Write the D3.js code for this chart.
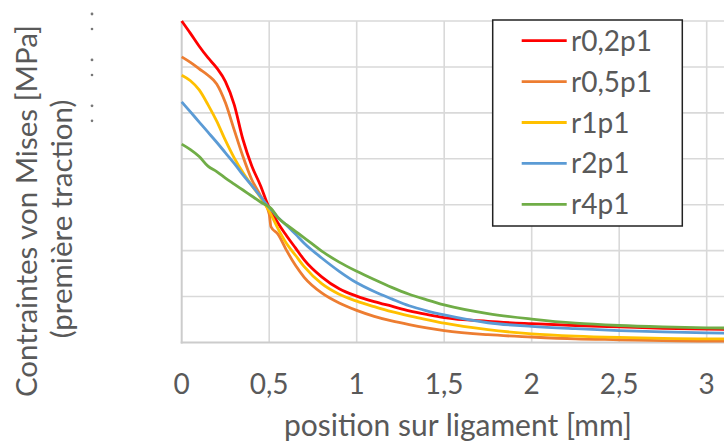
<!DOCTYPE html>
<html>
<head>
<meta charset="utf-8">
<script src="https://cdn.jsdelivr.net/npm/d3@7"></script>
<style>
  body { margin: 0; background: #fff; }
  svg { display: block; }
  text { font-family: Lato, "Open Sans", sans-serif; fill: #595959; }
</style>
</head>
<body>
<script>
"use strict";

// position along the ligament [mm]
var xPos = [0, 0.05, 0.1, 0.15, 0.2, 0.25, 0.3, 0.35, 0.4, 0.45, 0.5, 0.51, 0.55, 0.6, 0.65, 0.7,
            0.8, 0.9, 1, 1.1, 1.2, 1.3, 1.4, 1.5, 1.75, 2, 2.25, 2.5, 2.75, 3, 3.25];

// von Mises stress
var r02 = [700, 673, 645, 620, 598, 568, 518, 442, 385, 342, 294, 288, 260, 232, 206, 180,
           143, 117, 101, 89, 79, 69, 61, 54, 46, 41, 37, 34, 31, 29, 28];
var r05 = [622, 610, 596, 582, 563, 522, 463, 405, 355, 320, 280, 252, 236, 200, 168, 142,
           108, 86, 70, 57, 47, 39, 32, 26, 17, 12, 8, 6, 4, 3, 3];
var r1  = [582, 570, 550, 518, 482, 440, 402, 370, 342, 316, 286, 279, 248, 215, 190, 165,
           128, 105, 90, 78, 67, 58, 50, 42, 28, 19, 14, 11, 9, 8, 8];
var r2  = [524, 502, 480, 458, 436, 413, 390, 365, 342, 318, 294, 290, 272, 255, 236, 216,
           184, 155, 130, 111, 95, 80, 69, 60, 43, 35, 30, 26, 23, 21, 20];
var r4  = [432, 420, 405, 384, 372, 358, 345, 332, 319, 306, 295, 292, 272, 256, 242, 228,
           199, 175, 155, 137, 120, 105, 93, 82, 63, 51, 42, 37, 34, 32, 31];

var seriesNames = ["r0,2p1", "r0,5p1", "r1p1", "r2p1", "r4p1"];
var seriesValues = [r02, r05, r1, r2, r4];
var seriesColors = ["#ff0000", "#ed7d31", "#ffc000", "#5b9bd5", "#70ad47"];

var xTicks = [0, 0.5, 1, 1.5, 2, 2.5, 3, 3.5];
var xTickLabels = ["0", "0,5", "1", "1,5", "2", "2,5", "3", "3,5"];
var yTicks = [0, 100, 200, 300, 400, 500, 600, 700];

var width = 724, height = 441;

var svg = d3.select("body")
  .append("svg")
  .attr("width", width)
  .attr("height", height);

var x = d3.scaleLinear().domain([0, 3.5]).range([181.7, 794.2]);
var y = d3.scaleLinear().domain([0, 700]).range([342.5, 21]);

// grid
svg.append("g").selectAll("line")
  .data(yTicks.slice(1))
  .enter().append("line")
  .attr("x1", x(0)).attr("x2", width)
  .attr("y1", function (d) { return y(d); })
  .attr("y2", function (d) { return y(d); })
  .style("stroke", "#d9d9d9")
  .style("stroke-width", 1.6);

svg.append("g").selectAll("line")
  .data(xTicks.slice(1))
  .enter().append("line")
  .attr("x1", function (d) { return x(d); })
  .attr("x2", function (d) { return x(d); })
  .attr("y1", y(700)).attr("y2", y(0))
  .style("stroke", "#d9d9d9")
  .style("stroke-width", 1.6);

// axis lines
svg.append("line")
  .attr("x1", x(0)).attr("x2", x(0))
  .attr("y1", y(700)).attr("y2", y(0) + 1)
  .style("stroke", "#cccccc").style("stroke-width", 2);
svg.append("line")
  .attr("x1", x(0) - 1).attr("x2", width)
  .attr("y1", y(0)).attr("y2", y(0))
  .style("stroke", "#cccccc").style("stroke-width", 2);

// x tick labels
svg.append("g").selectAll("text")
  .data(xTicks)
  .enter().append("text")
  .attr("x", function (d) { return x(d); })
  .attr("y", 394)
  .attr("text-anchor", "middle")
  .style("font-size", "28px")
  .text(function (d, i) { return xTickLabels[i]; });

// what is left of the y tick labels (top three)
yTicks.slice(5).forEach(function (t) {
  svg.append("circle").attr("cx", 92).attr("cy", y(t) - 7).attr("r", 1.4).style("fill", "#777");
  svg.append("circle").attr("cx", 92).attr("cy", y(t) + 8).attr("r", 1.3).style("fill", "#777");
});

// series
var line = d3.line()
  .x(function (d) { return x(d[0]); })
  .y(function (d) { return y(d[1]); })
  .curve(d3.curveMonotoneX);

svg.append("g").selectAll("path")
  .data(seriesValues)
  .enter().append("path")
  .attr("d", function (vals) { return line(vals.map(function (v, i) { return [xPos[i], v]; })); })
  .style("fill", "none")
  .style("stroke", function (d, i) { return seriesColors[i]; })
  .style("stroke-width", 2.8)
  .style("stroke-linejoin", "round");

// axis titles
svg.append("text")
  .attr("x", 458)
  .attr("y", 436)
  .attr("text-anchor", "middle")
  .style("font-size", "30px")
  .text("position sur ligament [mm]");

svg.append("text")
  .attr("transform", "translate(37,211) rotate(-90)")
  .attr("text-anchor", "middle")
  .style("font-size", "29.5px")
  .text("Contraintes von Mises [MPa]");

svg.append("text")
  .attr("transform", "translate(72,219) rotate(-90)")
  .attr("text-anchor", "middle")
  .style("font-size", "29.5px")
  .text("(première traction)");

// legend
var legend = svg.append("g");
legend.append("rect")
  .attr("x", 492.7).attr("y", 20)
  .attr("width", 189.6).attr("height", 206)
  .style("fill", "#fff")
  .style("stroke", "#222")
  .style("stroke-width", 1.5);

var rows = legend.selectAll("g.row")
  .data(seriesNames)
  .enter().append("g")
  .attr("class", "row")
  .attr("transform", function (d, i) { return "translate(0," + (40.7 + i * 40.9) + ")"; });

rows.append("line")
  .attr("x1", 521.7).attr("x2", 566.7)
  .style("stroke", function (d, i) { return seriesColors[i]; })
  .style("stroke-width", 2.8);

rows.append("text")
  .attr("x", 571)
  .attr("y", 10)
  .style("font-size", "28px")
  .text(function (d) { return d; });
</script>
</body>
</html>
